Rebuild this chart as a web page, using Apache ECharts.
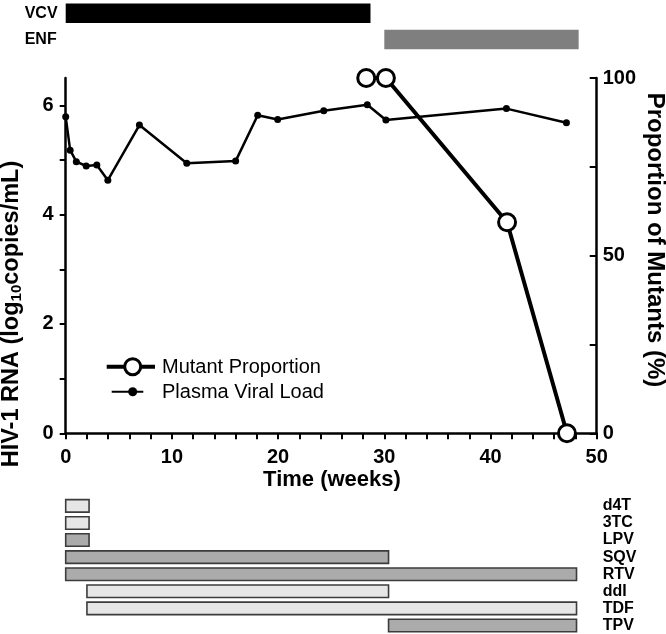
<!DOCTYPE html>
<html><head><meta charset="utf-8">
<script src="https://cdn.jsdelivr.net/npm/echarts@6/dist/echarts.min.js"></script>
<style>html,body{margin:0;padding:0;background:#fff}#c{width:666px;height:634px}</style>
</head><body><div id="c"></div>
<script>
// ---- data ----
const weeksVL = [0, 0.42, 1.0, 1.93, 2.93, 3.97, 6.94, 11.4, 16.0, 18.08, 19.96, 24.3, 28.4, 30.15, 41.5, 47.15];
const viralLoad = [5.79, 5.18, 4.97, 4.89, 4.91, 4.63, 5.64, 4.94, 4.98, 5.82, 5.74, 5.90, 6.01, 5.73, 5.94, 5.68];
const weeksMut = [28.3, 30.15, 41.56, 47.2];
const mutantPct = [100, 100, 59.4, 0];
const topDrugs = ['VCV', 'ENF'];
const topStart = [0, 30];
const topEnd = [28.7, 48.3];
const drugs = ['d4T', '3TC', 'LPV', 'SQV', 'RTV', 'ddI', 'TDF', 'TPV'];
const drugStart = [0, 0, 0, 0, 0, 2, 2, 30.4];
const drugEnd = [2.2, 2.2, 2.2, 30.4, 48.1, 30.4, 48.1, 48.1];
const drugShade = ['light', 'light', 'dark', 'dark', 'dark', 'light', 'light', 'dark'];
const xTickValues = [0,2,4,6,8,10,12,14,16,18,20,22,24,26,28,30,32,34,36,38,40,42,44,46,48,50];
const xLabelValues = [0, 10, 20, 30, 40, 50];
const leftTickValues = [0, 1, 2, 3, 4, 5, 6];
const leftLabelValues = [0, 2, 4, 6];
const rightTickValues = [0, 25, 50, 75, 100];
const rightLabelValues = [0, 50, 100];

// ---- styling ----
const FONT = '"Liberation Sans", Arial, Helvetica, sans-serif';
const shadeColor = { light: '#e6e6e6', dark: '#ababab' };
const topColor = ['#000000', '#7f7f7f'];

const chart = echarts.init(document.getElementById('c'), null, { renderer: 'canvas' });

const plotLeft = 65.7, plotRight = 69.3;

function lineData(xs, ys) { return xs.map((x, i) => [x, ys[i]]); }

const topData = topDrugs.map((d, i) => [i, topStart[i], topEnd[i]]);
const drugData = drugs.map((d, i) => [i, drugStart[i], drugEnd[i], drugShade[i]]);

const axisLabelStyle = { color: '#000', fontSize: 20, fontWeight: 'bold', fontFamily: FONT };
const blackAxisLine = { show: true, lineStyle: { color: '#000', width: 2.5 } };

const option = {
  animation: false,
  backgroundColor: '#fff',
  textStyle: { fontFamily: FONT },
  grid: [
    { left: plotLeft, right: plotRight, top: 78, bottom: 200.7 },
    { left: plotLeft, right: plotRight, top: -4.6, height: 57.2 },
    { left: plotLeft, right: plotRight, top: 497.3, height: 138.7 }
  ],
  xAxis: [
    {
      gridIndex: 0, type: 'value', min: 0, max: 50, interval: 10,
      axisLine: blackAxisLine,
      axisTick: { show: true, customValues: xTickValues, length: 6, lineStyle: { color: '#000', width: 2 } },
      axisLabel: Object.assign({ margin: 14, customValues: xLabelValues }, axisLabelStyle),
      splitLine: { show: false }
    },
    { gridIndex: 1, type: 'value', min: 0, max: 50, show: false },
    { gridIndex: 2, type: 'value', min: 0, max: 50, show: false }
  ],
  yAxis: [
    {
      gridIndex: 0, type: 'value', min: 0, max: 6.5, position: 'left',
      axisLine: blackAxisLine,
      axisTick: { show: true, customValues: leftTickValues, length: 6, lineStyle: { color: '#000', width: 2 } },
      axisLabel: Object.assign({ margin: 12, customValues: leftLabelValues }, axisLabelStyle),
      splitLine: { show: false }
    },
    {
      gridIndex: 0, type: 'value', min: 0, max: 100, position: 'right',
      axisLine: blackAxisLine,
      axisTick: { show: true, inside: true, customValues: rightTickValues, length: 7, lineStyle: { color: '#000', width: 2 } },
      axisLabel: Object.assign({ margin: 6, customValues: rightLabelValues }, axisLabelStyle),
      splitLine: { show: false }
    },
    {
      gridIndex: 1, type: 'category', data: topDrugs, inverse: true,
      axisLine: { show: false }, axisTick: { show: false },
      axisLabel: { interval: 0, align: 'left', margin: 41, color: '#000', fontSize: 16, fontWeight: 'bold', fontFamily: FONT, padding: [4, 0, 0, 0] }
    },
    {
      gridIndex: 2, type: 'category', data: drugs, inverse: true, position: 'right',
      axisLine: { show: false }, axisTick: { show: false },
      axisLabel: { interval: 0, align: 'left', margin: 6, color: '#000', fontSize: 16, fontWeight: 'bold', fontFamily: FONT }
    }
  ],
  series: [
    {
      name: 'Plasma Viral Load', type: 'line', xAxisIndex: 0, yAxisIndex: 0,
      data: lineData(weeksVL, viralLoad),
      symbol: 'circle', symbolSize: 7,
      itemStyle: { color: '#000' },
      lineStyle: { color: '#000', width: 2.5 },
      z: 3
    },
    {
      name: 'Mutant Proportion', type: 'line', xAxisIndex: 0, yAxisIndex: 1,
      data: lineData(weeksMut, mutantPct),
      symbol: 'circle', symbolSize: 17, clip: false,
      itemStyle: { color: '#fff', borderColor: '#000', borderWidth: 3 },
      lineStyle: { color: '#000', width: 4 },
      z: 4
    },
    {
      type: 'custom', xAxisIndex: 1, yAxisIndex: 2,
      data: topData, encode: { x: [1, 2], y: 0 },
      renderItem: function (params, api) {
        const c = api.value(0);
        const s = api.coord([api.value(1), c]);
        const e = api.coord([api.value(2), c]);
        const h = 19.5;
        return { type: 'rect', shape: { x: s[0], y: s[1] - h / 2, width: e[0] - s[0], height: h },
                 style: { fill: topColor[c] } };
      }
    },
    {
      type: 'custom', xAxisIndex: 2, yAxisIndex: 3,
      data: drugData, encode: { x: [1, 2], y: 0 },
      renderItem: function (params, api) {
        const c = api.value(0);
        const s = api.coord([api.value(1), c]);
        const e = api.coord([api.value(2), c]);
        const h = 12.5;
        return { type: 'rect', shape: { x: s[0], y: s[1] - h / 2, width: e[0] - s[0], height: h },
                 style: { fill: shadeColor[drugData[params.dataIndex][3]], stroke: '#3c3c3c', lineWidth: 1.6 } };
      }
    }
  ],
  graphic: [
    // axis titles
    {
      type: 'text', x: 12, y: 314, rotation: Math.PI / 2,
      style: {
        text: '{a|HIV-1 RNA (log}{s|10}{a|copies/mL)}',
        align: 'center', verticalAlign: 'middle',
        rich: {
          a: { fontSize: 23.5, fontWeight: 'bold', fontFamily: FONT, fill: '#000' },
          s: { fontSize: 15, fontWeight: 'bold', fontFamily: FONT, fill: '#000', padding: [10, 0, 0, 0] }
        }
      }
    },
    {
      type: 'text', x: 655, y: 240, rotation: -Math.PI / 2,
      style: { text: 'Proportion of Mutants (%)', align: 'center', verticalAlign: 'middle',
               fontSize: 24, fontWeight: 'bold', fontFamily: FONT, fill: '#000' }
    },
    {
      type: 'text', x: 332, y: 480,
      style: { text: 'Time (weeks)', align: 'center', verticalAlign: 'middle',
               fontSize: 22, fontWeight: 'bold', fontFamily: FONT, fill: '#000' }
    },
    // legend
    { type: 'line', shape: { x1: 106.7, y1: 366.7, x2: 155, y2: 366.7 }, style: { stroke: '#000', lineWidth: 4 }, z: 10 },
    { type: 'circle', shape: { cx: 132.7, cy: 366.7, r: 8 }, style: { fill: '#fff', stroke: '#000', lineWidth: 3 }, z: 11 },
    { type: 'text', x: 162, y: 367, style: { text: 'Mutant Proportion', verticalAlign: 'middle', fontSize: 20, fontFamily: FONT, fill: '#000' }, z: 11 },
    { type: 'line', shape: { x1: 111.7, y1: 391.7, x2: 143.3, y2: 391.7 }, style: { stroke: '#000', lineWidth: 2 }, z: 10 },
    { type: 'circle', shape: { cx: 132.7, cy: 391.7, r: 4.5 }, style: { fill: '#000' }, z: 11 },
    { type: 'text', x: 162, y: 392, style: { text: 'Plasma Viral Load', verticalAlign: 'middle', fontSize: 20, fontFamily: FONT, fill: '#000' }, z: 11 }
  ]
};
chart.setOption(option);
</script>
</body></html>
